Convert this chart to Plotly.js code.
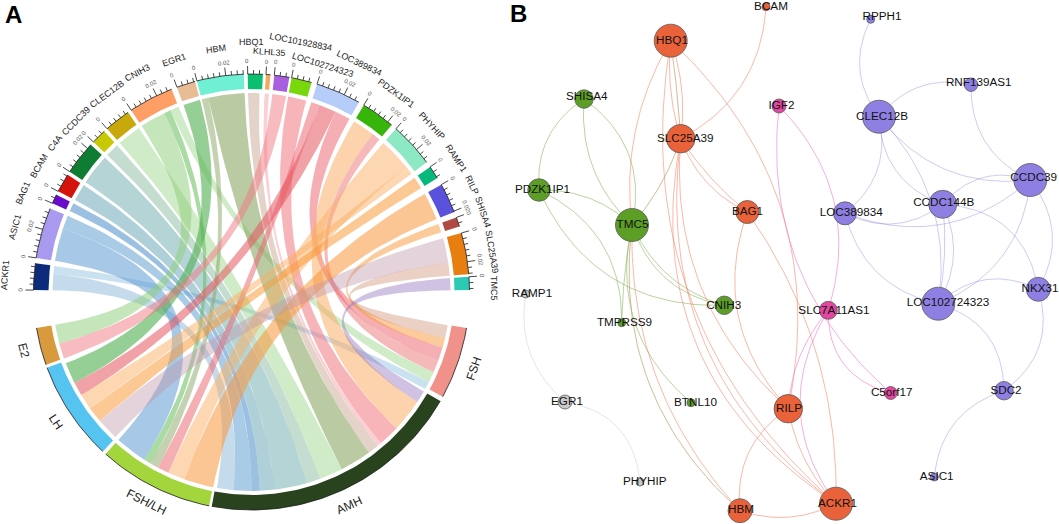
<!DOCTYPE html>
<html><head><meta charset="utf-8">
<script src="https://cdn.plot.ly/plotly-3.0.1.min.js"></script>
<style>html,body{margin:0;padding:0;background:#fff}#p{width:1059px;height:524px}</style>
</head><body><div id="p"></div>
<script>
// ---------- Panel A: chord diagram data (sector spans in degrees) ----------
const geneNames=["ACKR1","ASIC1","BAG1","BCAM","C4A","CCDC39","CLEC12B","CNIH3","EGR1","HBM","HBQ1","KLHL35","LOC101928834","LOC102724323","LOC389834","PDZK1IP1","PHYHIP","RAMP1","RILP","SHISA4","SLC25A39","TMC5"];
const geneStart=[172.4,157.5,153.5,147.5,137.5,132.5,124.5,111.5,105,92,87,85,80,74,60.5,50,36.5,31.5,21.5,17.5,4.7,0.5];
const geneEnd=[179.5,171,156,152.5,146.5,136.5,131.5,123.5,110,104.5,91,86.2,84,79.4,72.5,59,48.5,35,29.5,20,15.7,4];
const geneColor=["#0d2b7a","#a99af0","#6a0bc9","#d4140c","#0e7c33","#c8c805","#c9a80c","#ff9e66","#e8bd96","#6fefd4","#0abf70","#f4a860","#a95ee0","#78d80c","#b5cdf8","#38b50a","#8de8c4","#06b87c","#5a52dd","#b04a45","#e87e10","#2cc9b5"];
const geneLabelX=[5,15,23,39,55,76,107,137,174,216,251,269,301,323,359,396,432,456,472,483,492,494];
const geneLabelY=[275,227,193,166,143,121,94,73,60,49,42,52,42,65,63,93,126,158,185,212,252,288];
const hormoneNames=["E2","LH","FSH/LH","AMH","FSH"];
const hormoneStart=[-170.5,-159.7,-132,-100.5,-28.7];
const hormoneEnd=[-160.5,-133,-101.2,-30,-9.5];
const hormoneColor=["#d89a3c","#56c4f0","#a2d63c","#28431d","#f0928a"];
const ribbonGeneA=[172.5,174.8,161.5,157.5,153.5,147.5,137.5,132.5,124.5,116,114,111.5,105,102.5,92,87.7,85,80,74,70,65,60.5,52.5,50,39,36.5,31.5,21.5,17.5,8.5,4.7,0.5];
const ribbonGeneB=[174.8,179.5,171,161.5,156,152.5,146.5,136.5,131.5,123.5,116,114,110,104.5,102.5,91,86.2,84,79.4,72.5,70,65,59,52.5,48.5,39,35,29.5,20,15.7,8.5,4];
const ribbonEndA=[-29.2,-100,-132,-95.2,-90,-87.6,-83.2,-73.9,-69.8,-170.5,-122.6,-26.9,-159,-120.5,-63,-53.8,-50.6,-165,-49.4,-118,-152.8,-20,-43.2,-23.7,-114.7,-148.8,-144.2,-109.7,-16.2,-139.7,-13.5,-33.6];
const ribbonEndB=[-26.9,-95.2,-122.6,-90,-87.6,-83.2,-73.9,-69.8,-63,-165,-120.5,-23.7,-152.8,-118,-53.8,-50.6,-49.4,-160.5,-43.2,-114.7,-148.8,-16.2,-33.6,-20,-109.7,-144.2,-139.7,-101.1,-13.5,-133.2,-9.6,-30];
const ribbonColor=["rgba(150,195,225,.5)","rgba(150,190,220,.55)","rgba(95,155,210,.55)","rgba(100,160,210,.55)","rgba(90,150,205,.6)","rgba(80,150,170,.45)","rgba(90,160,165,.45)","rgba(125,180,150,.45)","rgba(150,210,130,.45)","rgba(140,205,120,.5)","rgba(100,190,90,.55)","rgba(150,210,130,.45)","rgba(80,175,80,.6)","rgba(140,165,100,.5)","rgba(130,160,90,.55)","rgba(190,150,125,.42)","rgba(245,150,160,.45)","rgba(240,120,130,.5)","rgba(240,120,130,.55)","rgba(235,95,105,.5)","rgba(230,85,95,.55)","rgba(235,95,105,.5)","rgba(250,170,95,.52)","rgba(235,100,100,.45)","rgba(250,175,100,.5)","rgba(250,175,100,.5)","rgba(250,155,60,.55)","rgba(250,150,60,.55)","rgba(250,160,75,.55)","rgba(190,150,170,.42)","rgba(205,140,110,.4)","rgba(150,120,190,.45)"];
const tickStep=0.004, majorEvery=5, degreesPerUnit=385;

// ---------- Panel B: network data ----------
const nodeNames=["HBQ1","BCAM","SHISA4","SLC25A39","IGF2","PDZK1IP1","TMC5","BAG1","CNIH3","RAMP1","TMPRSS9","EGR1","BTNL10","PHYHIP","HBM","RILP","ACKR1","SLC7A11AS1","C5orf17","LOC102724323","NKX31","SDC2","ASIC1","CLEC12B","RPPH1","RNF139AS1","CCDC39","CCDC144B","LOC389834"];
const nodeX=[670.7,766,584,680.7,779,539,632,747.3,724.3,525.7,621.7,565,691,640,740,788.3,836,828.3,890.7,938.3,1038.3,1004,934.3,879,870.7,971,1030.3,942.7,845];
const nodeY=[40.7,6.7,99,138.7,106,190,225,212,305.3,294,322.7,402,402.7,482,510.7,408.7,503.7,310.3,393,303.7,289.3,390.7,477,116.7,19.3,84.7,180,204.3,213.3];
const nodeSize=[33,8,18.5,28.5,14,22.5,33,23,18.5,8,8,14,8,8,24,28.5,33,18,13,33,24,18.5,8,33,8,13.5,33,28,23];
const nodeGroup=["o","o","g","o","p","g","g","o","g","x","g","x","g","x","o","o","o","p","p","v","v","v","v","v","v","v","v","v","v"];
const labelX=[672,771,586.7,685.3,781.5,542.5,632.5,747.5,723.7,532,624.5,567,695.5,644.7,741,789,837.5,834,891.7,948,1040,1006,936.7,882,882,978.7,1033.7,943.7,851.3];
const labelY=[40.7,7,97,139,106,190,225,212,306,294,323,402,403,482,510,408.7,503.7,311,393,302.7,289,390.7,477,116.7,17.3,83.3,178,203.3,213.3];
const groupColor={o:"#e9623a",g:"#5c9e26",p:"#e2479f",x:"#c9c9c9",v:"#8e80e2"};
const edgeColor={o:"rgba(245,125,95,.55)",g:"rgba(130,175,85,.55)",t:"rgba(190,160,105,.7)",p:"rgba(240,120,200,.6)",x:"rgba(190,190,190,.4)",v:"rgba(140,130,225,.42)"};
const edgeFrom=["SHISA4","SHISA4","SHISA4","PDZK1IP1","PDZK1IP1","PDZK1IP1","TMC5","TMC5","TMC5","TMC5","TMC5","TMC5","HBQ1","HBQ1","HBQ1","HBQ1","HBQ1","HBQ1","BAG1","BAG1","RILP","RILP","HBM","SLC25A39","SLC25A39","SLC25A39","SLC25A39","SLC25A39","SLC25A39","TMC5","SLC7A11AS1","RILP","IGF2","IGF2","SLC7A11AS1","RPPH1","CLEC12B","RNF139AS1","CLEC12B","CLEC12B","CLEC12B","CLEC12B","LOC389834","LOC389834","LOC389834","CCDC144B","CCDC144B","CCDC144B","CCDC144B","CCDC39","CCDC39","LOC102724323","LOC102724323","NKX31","SDC2","RAMP1","EGR1"];
const edgeTo=["PDZK1IP1","TMC5","TMC5","TMC5","CNIH3","TMPRSS9","CNIH3","CNIH3","TMPRSS9","BTNL10","HBM","SLC25A39","TMC5","ACKR1","SLC25A39","SLC25A39","SLC25A39","RILP","ACKR1","RILP","ACKR1","HBM","ACKR1","BAG1","BAG1","BCAM","RILP","ACKR1","ACKR1","HBM","ACKR1","SLC7A11AS1","C5orf17","SLC7A11AS1","C5orf17","CLEC12B","RNF139AS1","CCDC39","CCDC39","CCDC144B","LOC102724323","LOC389834","CCDC144B","CCDC39","LOC102724323","CCDC39","LOC102724323","LOC102724323","NKX31","LOC102724323","NKX31","NKX31","SDC2","SDC2","ASIC1","EGR1","PHYHIP"];
const edgeBend=[-15,-16,22,10,-36,25,-14,-18,-2,-28,-40,-5,-16,-68,-5,1,6,54,25,-30,-8,-17,-10,-10,-4,-22,-36,-58,-66,-31,-32,9,-40,31,-20,-15,15,-18,-23,-18,24,16,-15,-28,-20,15,4,13,25,23,18,17,20,19,-18,-16,21];
const edgeKind=["g","g","g","g","g","g","g","g","g","g","t","t","o","o","o","t","o","o","o","o","o","o","o","o","o","o","o","o","o","o","p","p","p","p","p","v","v","v","v","v","v","v","v","v","v","v","v","v","v","v","v","v","v","v","v","x","x"];

// ---------- Geometry helpers ----------
const cx=251.5, cy=292, rOuter=218, rInner=203, rRibbon=199;
const rad=d=>d*Math.PI/180;
const px=(r,a)=>cx+r*Math.cos(rad(a)), py=(r,a)=>cy-r*Math.sin(rad(a));
function arc(r,a,b,xs,ys){const n=Math.max(2,Math.ceil(Math.abs(b-a)));for(let i=0;i<=n;i++){const t=a+(b-a)*i/n;xs.push(px(r,t));ys.push(py(r,t));}}
function bez(x0,y0,x1,y1,x2,y2,xs,ys,n=40){for(let i=0;i<=n;i++){const t=i/n,u=1-t;xs.push(u*u*x0+2*u*t*x1+t*t*x2);ys.push(u*u*y0+2*u*t*y1+t*t*y2);}}
const fillTrace=(x,y,c)=>({type:"scatter",mode:"lines",x,y,fill:"toself",fillcolor:c,line:{width:0,color:c},hoverinfo:"skip",showlegend:false});

const traces=[], ann=[];
function rot(a){let r=90-a;while(r>90)r-=180;while(r<=-90)r+=180;return r;}

// ribbons
ribbonGeneA.forEach((a1,i)=>{
  const a2=ribbonGeneB[i],b1=ribbonEndA[i]+360,b2=ribbonEndB[i]+360,xs=[],ys=[];
  arc(rRibbon,a1,a2,xs,ys);
  bez(px(rRibbon,a2),py(rRibbon,a2),cx,cy,px(rRibbon,b1),py(rRibbon,b1),xs,ys);
  arc(rRibbon,b1,b2,xs,ys);
  bez(px(rRibbon,b2),py(rRibbon,b2),cx,cy,px(rRibbon,a1),py(rRibbon,a1),xs,ys);
  traces.push(fillTrace(xs,ys,ribbonColor[i]));
});
// sector blocks
function block(a,b,c){const xs=[],ys=[];arc(rOuter,a,b,xs,ys);arc(rInner,b,a,xs,ys);xs.push(xs[0]);ys.push(ys[0]);traces.push(fillTrace(xs,ys,c));}
geneNames.forEach((g,i)=>block(geneStart[i],geneEnd[i],geneColor[i]));
hormoneNames.forEach((g,i)=>block(hormoneStart[i],hormoneEnd[i],hormoneColor[i]));
// axis arcs + ticks
const axX=[],axY=[];
function addArc(a,b){arc(rOuter,a,b,axX,axY);axX.push(null);axY.push(null);}
geneNames.forEach((g,i)=>{
  addArc(geneStart[i],geneEnd[i]);
  const span=geneEnd[i]-geneStart[i];
  for(let k=0;k*tickStep*degreesPerUnit<=span+0.05;k++){
    const a=geneEnd[i]-k*tickStep*degreesPerUnit, major=k%majorEvery===0, len=major?8:4;
    axX.push(px(rOuter,a),px(rOuter+len,a),null);axY.push(py(rOuter,a),py(rOuter+len,a),null);
    if(major)ann.push({x:px(rOuter+13,a),y:py(rOuter+13,a),text:String(+(k*tickStep).toFixed(2)),textangle:rot(a),font:{size:6,color:"#555",family:"Liberation Sans"}});
  }
});
hormoneNames.forEach((g,i)=>addArc(hormoneStart[i],hormoneEnd[i]));
traces.push({type:"scatter",mode:"lines",x:axX,y:axY,line:{color:"#1a1a1a",width:0.8},hoverinfo:"skip",showlegend:false,connectgaps:false});
// sector labels
geneNames.forEach((g,i)=>{const a=Math.atan2(cy-geneLabelY[i],geneLabelX[i]-cx)*180/Math.PI;
  ann.push({x:geneLabelX[i],y:geneLabelY[i],text:g,textangle:rot(a),font:{size:9,color:"#222",family:"Liberation Sans"}});});
hormoneNames.forEach((g,i)=>{const a=(hormoneStart[i]+hormoneEnd[i])/2;
  ann.push({x:px(235,a),y:py(235,a),text:g,textangle:rot(a),font:{size:12,color:"#222",family:"Liberation Sans"}});});
ann.push({x:13,y:14,text:"<b>A</b>",font:{size:24,color:"#000",family:"Liberation Sans"}});
ann.push({x:518,y:13,text:"<b>B</b>",font:{size:24,color:"#000",family:"Liberation Sans"}});

// network edges
edgeFrom.forEach((f,i)=>{
  const a=nodeNames.indexOf(f),b=nodeNames.indexOf(edgeTo[i]);
  const x0=nodeX[a],y0=nodeY[a],x2=nodeX[b],y2=nodeY[b],dx=x2-x0,dy=y2-y0,l=Math.hypot(dx,dy);
  const mx=(x0+x2)/2+2*edgeBend[i]*dy/l,my=(y0+y2)/2-2*edgeBend[i]*dx/l,xs=[],ys=[];
  bez(x0,y0,mx,my,x2,y2,xs,ys);
  traces.push({type:"scatter",mode:"lines",x:xs,y:ys,line:{color:edgeColor[edgeKind[i]],width:1},hoverinfo:"skip",showlegend:false});
});
// network nodes + labels
traces.push({type:"scatter",mode:"markers",x:nodeX,y:nodeY,marker:{size:nodeSize,opacity:1,color:nodeGroup.map(g=>groupColor[g]),line:{color:"#5a5a5a",width:0.8}},hoverinfo:"skip",showlegend:false});
traces.push({type:"scatter",mode:"text",x:labelX,y:labelY,text:nodeNames,textposition:"middle center",textfont:{size:11.7,color:"#111",family:"Liberation Sans"},hoverinfo:"skip",showlegend:false});

ann.forEach(o=>{o.xref="x";o.yref="y";o.showarrow=false;o.xanchor="center";o.yanchor="middle";});

Plotly.newPlot("p",traces,{width:1059,height:524,margin:{l:0,r:0,t:0,b:0},paper_bgcolor:"#fff",plot_bgcolor:"#fff",showlegend:false,
  xaxis:{range:[0,1059],visible:false,fixedrange:true},
  yaxis:{range:[524,0],visible:false,fixedrange:true},
  annotations:ann},{displayModeBar:false,staticPlot:true});
</script></body></html>
